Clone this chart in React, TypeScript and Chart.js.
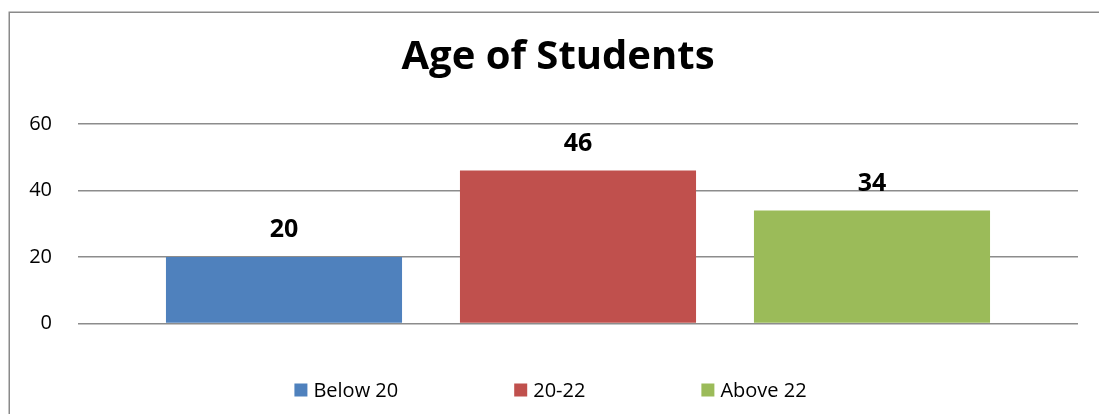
import React, { useEffect, useRef } from "react";
import { Chart, registerables } from "chart.js";

Chart.register(...registerables);

const chartTitle = "Age of Students";
const categories = ["Age of Students"];
const seriesNames = ["Below 20", "20-22", "Above 22"];
const seriesValues = [[20], [46], [34]];
const seriesColors = ["#4F81BD", "#C0504D", "#9BBB59"];
const yTicks = [0, 20, 40, 60];

const FONT = "'Open Sans', 'Noto Sans', sans-serif";

const framePlugin = {
  id: "frame",
  beforeDraw(chart: any) {
    const { ctx, width, height } = chart;
    ctx.save();
    ctx.fillStyle = "#ffffff";
    ctx.fillRect(0, 0, width, height);
    ctx.strokeStyle = "#8a8a8a";
    ctx.lineWidth = 1.5;
    ctx.beginPath();
    ctx.moveTo(9.25, height + 5);
    ctx.lineTo(9.25, 12.25);
    ctx.lineTo(width + 5, 12.25);
    ctx.stroke();
    ctx.restore();
  },
};

const titlePlugin = {
  id: "titleText",
  afterDraw(chart: any) {
    const { ctx } = chart;
    ctx.save();
    ctx.font = `bold 40px ${FONT}`;
    ctx.fillStyle = "#000";
    ctx.textAlign = "center";
    ctx.textBaseline = "alphabetic";
    ctx.fillText(chartTitle, 558, 69);
    ctx.restore();
  },
};

const valueLabelPlugin = {
  id: "valueLabels",
  afterDatasetsDraw(chart: any) {
    const { ctx } = chart;
    ctx.save();
    ctx.font = `bold 25px ${FONT}`;
    ctx.fillStyle = "#000";
    ctx.textAlign = "center";
    ctx.textBaseline = "middle";
    chart.data.datasets.forEach((ds: any, i: number) => {
      const meta = chart.getDatasetMeta(i);
      meta.data.forEach((bar: any, j: number) => {
        ctx.fillText(String(ds.data[j]), bar.x, bar.y - 27);
      });
    });
    ctx.restore();
  },
};

const legendPlugin = {
  id: "customLegend",
  afterDraw(chart: any) {
    const { ctx } = chart;
    ctx.save();
    ctx.font = `20px ${FONT}`;
    ctx.textBaseline = "middle";
    ctx.textAlign = "left";
    const box = 13;
    const gap = 6;
    const spacing = 116;
    const items = chart.data.datasets.map((ds: any) => ({
      text: ds.label,
      color: ds.backgroundColor,
      w: box + gap + ctx.measureText(ds.label).width,
    }));
    const total =
      items.reduce((s: number, it: any) => s + it.w, 0) + spacing * (items.length - 1);
    let x = 550.5 - total / 2;
    const cy = 390;
    items.forEach((it: any) => {
      ctx.fillStyle = it.color;
      ctx.fillRect(x, cy - 6.5, box, box);
      ctx.fillStyle = "#000";
      ctx.fillText(it.text, x + box + gap, cy + 1);
      x += it.w + spacing;
    });
    ctx.restore();
  },
};

export default function App() {
  const ref = useRef<HTMLCanvasElement | null>(null);

  useEffect(() => {
    if (!ref.current) return;
    const chart = new Chart(ref.current, {
      type: "bar",
      data: {
        labels: categories,
        datasets: seriesNames.map((name, i) => ({
          label: name,
          data: seriesValues[i],
          backgroundColor: seriesColors[i],
          borderWidth: 0,
          categoryPercentage: 0.882,
          barPercentage: 0.803,
        })),
      },
      options: {
        animation: false,
        responsive: false,
        maintainAspectRatio: false,
        layout: { padding: { left: 0, right: 21, top: 124, bottom: 90.5 } },
        plugins: {
          legend: { display: false },
          tooltip: { enabled: false },
          title: { display: false },
        },
        scales: {
          x: { display: false },
          y: {
            min: 0,
            max: 60,
            afterBuildTicks: (scale: any) => {
              scale.ticks = yTicks.map((v) => ({ value: v }));
            },
            afterFit: (scale: any) => {
              scale.width = 78;
            },
            border: { display: false },
            grid: { color: "#8c8c8c", lineWidth: 1.5, drawTicks: false },
            ticks: {
              color: "#000",
              font: { family: FONT, size: 20 },
              padding: 26,
            },
          },
        },
      },
      plugins: [framePlugin, titlePlugin, valueLabelPlugin, legendPlugin],
    });
    return () => chart.destroy();
  }, []);

  return (
    <div style={{ position: "fixed", left: 0, top: 0, width: 1099, height: 414, overflow: "hidden" }}>
      <canvas ref={ref} width={1099} height={414} style={{ display: "block" }} />
    </div>
  );
}
